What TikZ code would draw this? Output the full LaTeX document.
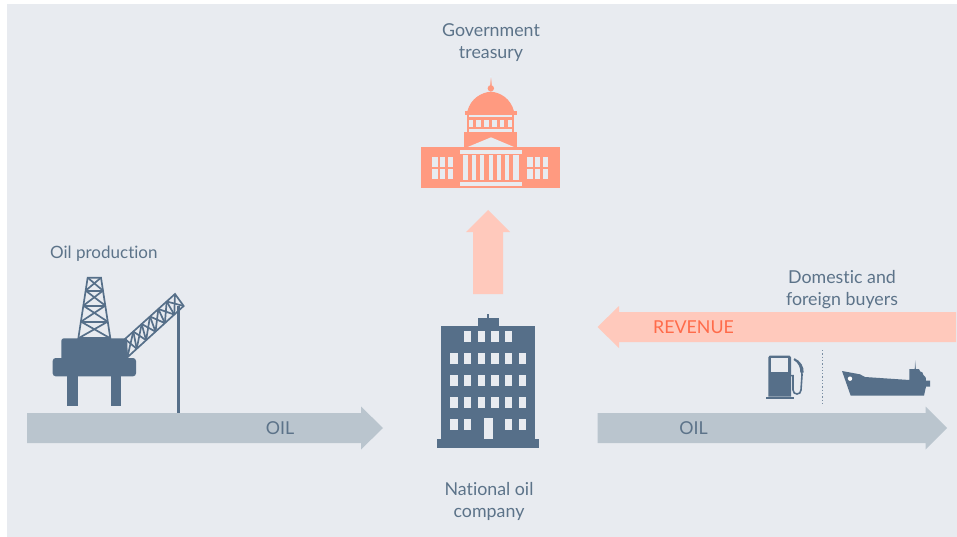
\documentclass[tikz,border=0pt]{standalone}
\usepackage{fontspec}
\setmainfont[Ligatures=NoCommon]{Lato}
\usetikzlibrary{calc}
\definecolor{panel}{HTML}{E8EBF0}
\definecolor{navy}{HTML}{566F89}
\definecolor{coral}{HTML}{FF9A80}
\definecolor{pale}{HTML}{FFC9BC}
\definecolor{steel}{HTML}{BAC5CE}
\definecolor{redtxt}{HTML}{FF6B4A}
\definecolor{txt}{HTML}{5C7389}
\tikzset{
  txtlabel/.style={text=txt,font=\fontsize{17.8}{21.5}\selectfont,inner sep=0pt,align=center},
  flowgrey/.style={fill=steel,draw=none},
  flowpale/.style={fill=pale,draw=none},
  zoomed/.style={x=0.33333pt,y=-0.33333pt},
  hole/.style={fill=panel,draw=none}
}
\begin{document}
\begin{tikzpicture}[x=1pt,y=-1pt]
\useasboundingbox (0,0) rectangle (957,537);
\fill[white] (0,0) rectangle (957,537);
\fill[panel] (7,4) rectangle (957,537);

% block arrows
\fill[flowpale] (473,294) -- (473,232) -- (466,232) -- (488,210) -- (510,232) -- (503,232) -- (503,294) -- cycle;
\fill[flowpale] (956,312) -- (619,312) -- (619,306) -- (597.5,327) -- (619,348) -- (619,342) -- (956,342) -- cycle;
\fill[flowgrey] (27,413) -- (361,413) -- (361,406.5) -- (383,428) -- (361,449.5) -- (361,443) -- (27,443) -- cycle;
\fill[flowgrey] (597.5,413) -- (925.5,413) -- (925.5,406.5) -- (947,428) -- (925.5,449.5) -- (925.5,443) -- (597.5,443) -- cycle;

% capitol
\begin{scope}[shift={(400,70)},zoomed]
  \shade[top color=panel,bottom color=coral] (270,20) rectangle (275,48);
  \fill[coral] (272.5,55) circle[radius=3.2pt];
  \fill[coral] (202,124) .. controls (212,85) and (245,67) .. (272.5,65) .. controls (300,67) and (332,85) .. (342,124) -- cycle;
  \fill[coral] (195,122) rectangle (351,134);
  \fill[coral] (200,130) rectangle (343,190);
  \fill[coral] (193,185) rectangle (350,231);
  \fill[coral] (64,231) rectangle (480,354);
  \fill[hole] (207,134) rectangle (337,141);
  \fill[hole] (207,177) rectangle (337,185);
  \foreach \a/\b in {206/219,229/243,253/267,276/290,300/313,323/336}
    \fill[hole] (\a,149) rectangle (\b,171);
  \fill[hole] (203,231) -- (273,202) -- (342,231) -- cycle;
  \fill[hole] (180,240) rectangle (365,252);
  \fill[hole] (180,336) rectangle (365,348);
  \foreach \a/\b in {189/205,217/229,241/253,266/278,291/303,316/328,340/356}
    \fill[hole] (\a,256) rectangle (\b,331);
  \foreach \a in {97,120,143,382,405,428}
    \foreach \b in {261,297}
      \fill[hole] (\a,\b) rectangle ++(16,29);
\end{scope}

% oil rig
\begin{scope}[shift={(40,270)},zoomed]
  \begin{scope}[draw=navy,line width=1.7pt,line join=miter]
    % derrick
    \draw (143,23) -- (183,23) -- (211,205) -- (115,205) -- cycle;
    \foreach \ya/\yb/\xa/\xb/\xc/\xd in {
      23/62/143/183/137/189,
      62/107/137/189/130/196,
      107/155/130/196/123/203,
      155/205/123/203/115/211}{
      \draw (\xa,\ya) -- (\xd,\yb);
      \draw (\xb,\ya) -- (\xc,\yb);
      \draw (\xc,\yb) -- (\xd,\yb);
    }
    % crane boom
    \coordinate (ba) at (255,207);
    \coordinate (bb) at (405,72);
    \coordinate (bc) at (262,262);
    \coordinate (bd) at (431,108);
    \draw (ba) -- (bb) -- (bd) -- (bc) -- cycle;
    \foreach \i [evaluate=\i as \t using \i/6, evaluate=\i as \u using (\i+1)/6] in {0,...,5}{
      \draw ($(ba)!\t!(bb)$) -- ($(bc)!\t!(bd)$);
      \draw ($(ba)!\t!(bb)$) -- ($(bc)!\u!(bd)$);
      \draw ($(ba)!\u!(bb)$) -- ($(bc)!\t!(bd)$);
    }
  \end{scope}
  \fill[navy] (412,108) rectangle (419,430);
  \fill[navy,rounded corners=2.5pt] (64,205) rectangle (262,275);
  \fill[navy,rounded corners=3pt] (38,264) rectangle (288,319);
  \fill[navy] (82,315) rectangle (114,409);
  \fill[navy] (212,315) rectangle (244,409);
\end{scope}

% national oil company building
\begin{scope}[shift={(425,305)},zoomed]
  \fill[navy] (186,27) rectangle (192,40);
  \fill[navy] (158,39) rectangle (221,64);
  \fill[navy] (48,62) rectangle (331,405);
  \fill[navy] (36,403) rectangle (343,430);
  \foreach \a in {117,158,199,240} \fill[hole] (\a,78) rectangle ++(22,33);
  \foreach \b in {144,210,276}
    \foreach \a in {76,117,158,199,240,281} \fill[hole] (\a,\b) rectangle ++(22,33);
  \foreach \a in {76,117,240,281} \fill[hole] (\a,342) rectangle ++(22,33);
  \fill[hole] (177,340) rectangle (203,403);
\end{scope}

% pump, divider, ship
\begin{scope}[shift={(750,340)},zoomed]
  \fill[navy] (55,52) .. controls (55,49) and (56,47) .. (59,47) -- (119,47) .. controls (122,47) and (123,49) .. (123,52) -- (123,170) -- (55,170) -- cycle;
  \fill[navy] (48,170) rectangle (131,178);
  \fill[hole] (64,55) rectangle (115,96);
  \draw[navy,line width=1.6pt] (123,107) -- (129,107) -- (129,150) .. controls (129,166) and (153,166) .. (153,150) -- (156,105) .. controls (157,85) and (150,68) .. (133,57);
  \fill[navy] (133,55) .. controls (152,62) and (162,80) .. (161,98) -- (151,98) .. controls (151,80) and (145,68) .. (131,60) -- cycle;
  \draw[navy!75!panel,line width=1.3pt,dotted] (218,30) -- (218,190);
  \shade[top color=panel,bottom color=navy] (495.5,57) -- (498,57) -- (500,88) -- (494,88) -- cycle;
  \fill[navy] (276,93) -- (330,103) -- (345,111) -- (478,120) -- (478,87) -- (507,87) -- (510,94) -- (517,97) -- (520,105) -- (527,112) -- (528,122) -- (540,122) -- (540,140) -- (528,140) -- (522,167) -- (302,167) -- cycle;
  \fill[white] (300,116) circle[radius=2.2pt];
\end{scope}

% labels
\node[txtlabel] (gov) at (491,42.5) {Government\\treasury};
\node[txtlabel,anchor=base west,font=\fontsize{17}{21.5}\selectfont] (prod) at (50,258) {Oil production};
\node[txtlabel,anchor=base] (oila) at (280,434) {OIL};
\node[txtlabel,anchor=base] (oilb) at (693.5,434) {OIL};
\node[txtlabel,anchor=base,text=redtxt] (rev) at (693.5,333) {REVENUE};
\node[txtlabel] (buyers) at (842,289.5) {Domestic and\\foreign buyers};
\node[txtlabel] (noc) at (489,501.5) {National oil\\company};
\end{tikzpicture}
\end{document}
